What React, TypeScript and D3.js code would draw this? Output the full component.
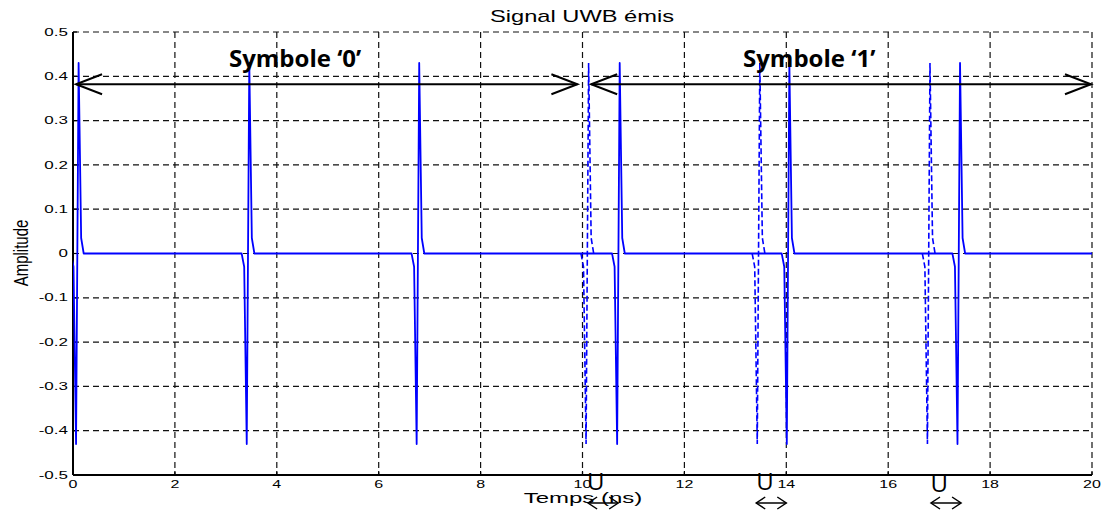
import React from "react";
import * as d3 from "d3";

// Axis ticks
const xTicks = [0, 2, 4, 6, 8, 10, 12, 14, 16, 18, 20];
const yTicks = [-0.5, -0.4, -0.3, -0.2, -0.1, 0, 0.1, 0.2, 0.3, 0.4, 0.5];

// One sampled UWB monocycle: time offsets (ns) and amplitudes
const pulseOffsets = [0, 0.05, 0.1, 0.15, 0.2, 0.25];
const pulseShape = [0, -0.03, -0.43, 0.43, 0.035, 0];

// Pulse start times (ns)
const symbol0Starts = [-0.04, 3.31, 6.645];
const symbol1Starts = [10.58, 13.91, 17.26];
// Unshifted positions of the symbol '1' pulses (drawn dashed)
const symbol1RefStarts = [9.97, 13.33, 16.67];

// Symbol span arrows and labels
const symbolLabels = ["Symbole \u20180\u2019", "Symbole \u20181\u2019"];
const symbolFrom = [0.06, 10.17];
const symbolTo = [9.9, 19.98];
const symbolLabelX = [3.06, 13.15];
const symbolArrowLevel = 0.382;

// PPM shift markers
const shiftMarkX = [10.26, 13.58, 17.0];
const shiftFrom = [10.11, 13.41, 16.84];
const shiftTo = [10.7, 14.0, 17.43];

const W = 1115;
const H = 517;
const left = 73;
const right = 1092;
const top = 32;
const bottom = 475;

const FONT = "'Liberation Sans', Arial, Helvetica, sans-serif";

function pulsePoints(start: number): [number, number][] {
  return pulseOffsets.map((o, i) => [start + o, pulseShape[i]] as [number, number]);
}

export default function App() {
  const x = d3.scaleLinear().domain([0, 20]).range([left, right]);
  const y = d3.scaleLinear().domain([-0.5, 0.5]).range([bottom, top]);
  const line = d3
    .line<[number, number]>()
    .x((d) => x(d[0]))
    .y((d) => y(d[1]));

  const solid: [number, number][] = [];
  [...symbol0Starts, ...symbol1Starts]
    .sort((a, b) => a - b)
    .forEach((s) => solid.push(...pulsePoints(s)));
  solid.push([20, 0]);

  const gridStyle = { stroke: "#111", strokeWidth: 1.2, strokeDasharray: "6,4" };
  const ay = y(symbolArrowLevel);

  const openHead = (tx: number, ty: number, dir: number, len: number, half: number) =>
    `M${tx + dir * len},${ty - half}L${tx},${ty}L${tx + dir * len},${ty + half}`;

  return (
    <svg
      width={W}
      height={H}
      style={{ position: "absolute", left: 0, top: 0, background: "#fff" }}
    >
      <defs>
        <clipPath id="plotArea">
          <rect x={left} y={top - 2} width={right - left} height={bottom - top + 4} />
        </clipPath>
      </defs>

      {/* grid */}
      {xTicks.slice(1).map((t) => (
        <line key={"gx" + t} x1={x(t)} x2={x(t)} y1={top} y2={bottom} {...gridStyle} />
      ))}
      {yTicks.slice(1).map((v) => (
        <line key={"gy" + v} x1={left} x2={right} y1={y(v)} y2={y(v)} {...gridStyle} />
      ))}

      {/* axes */}
      <line x1={left} x2={left} y1={top} y2={bottom} stroke="#000" strokeWidth={2} />
      <line x1={left} x2={right} y1={bottom} y2={bottom} stroke="#000" strokeWidth={2} />
      {xTicks.map((t) => (
        <line key={"tx" + t} x1={x(t)} x2={x(t)} y1={bottom} y2={bottom - 4} stroke="#000" strokeWidth={1.2} />
      ))}
      {yTicks.map((v) => (
        <line key={"ty" + v} x1={left} x2={left + 4} y1={y(v)} y2={y(v)} stroke="#000" strokeWidth={1.2} />
      ))}

      {/* tick labels */}
      {xTicks.map((t) => (
        <g key={"lx" + t} transform={`translate(${x(t)},488) scale(1.6,1)`}>
          <text textAnchor="middle" fontSize={10} fontFamily={FONT} fill="#000">
            {t}
          </text>
        </g>
      ))}
      {yTicks.map((v) => (
        <g key={"ly" + v} transform={`translate(68,${y(v) + 3.6}) scale(1.7,1)`}>
          <text textAnchor="end" fontSize={10} fontFamily={FONT} fill="#000">
            {String(+v.toFixed(1))}
          </text>
        </g>
      ))}

      {/* signal */}
      <g clipPath="url(#plotArea)">
        {symbol1RefStarts.map((s) => (
          <path
            key={"ref" + s}
            d={line(pulsePoints(s)) || ""}
            fill="none"
            stroke="#0000ff"
            strokeWidth={1.6}
            strokeDasharray="6,3"
          />
        ))}
        <path d={line(solid) || ""} fill="none" stroke="#0000ff" strokeWidth={1.8} strokeLinejoin="round" />
      </g>

      {/* symbol span arrows */}
      {symbolLabels.map((lab, i) => {
        const x1 = x(symbolFrom[i]);
        const x2 = x(symbolTo[i]);
        return (
          <g key={lab}>
            <line x1={x1} x2={x2} y1={ay} y2={ay} stroke="#000" strokeWidth={2} />
            <path d={openHead(x1, ay, 1, 26, 10)} fill="none" stroke="#000" strokeWidth={2} />
            <path d={openHead(x2, ay, -1, 26, 10)} fill="none" stroke="#000" strokeWidth={2} />
            <text
              x={x(symbolLabelX[i])}
              y={67}
              fontSize={24}
              fontWeight="bold"
              fontFamily="'Open Sans', sans-serif"
              fill="#000"
            >
              {lab}
            </text>
          </g>
        );
      })}

      {/* pulse position shift markers */}
      {shiftMarkX.map((m, i) => {
        const x1 = x(shiftFrom[i]);
        const x2 = x(shiftTo[i]);
        const yy = 503;
        return (
          <g key={"sh" + i}>
            <text
              x={x(m)}
              y={i === 2 ? 492 : 490}
              textAnchor="middle"
              fontSize={24}
              fontFamily="'Open Sans', sans-serif"
              fill="#000"
            >
              U
            </text>
            <line x1={x1} x2={x2} y1={yy} y2={yy} stroke="#000" strokeWidth={1.5} />
            <path d={openHead(x1, yy, 1, 9, 6)} fill="none" stroke="#000" strokeWidth={1.5} />
            <path d={openHead(x2, yy, -1, 9, 6)} fill="none" stroke="#000" strokeWidth={1.5} />
          </g>
        );
      })}

      {/* titles */}
      <g transform="translate(582,22) scale(1.48,1)">
        <text textAnchor="middle" fontSize={16} fontFamily={FONT} fill="#000">
          Signal UWB émis
        </text>
      </g>
      <g transform="translate(583,503) scale(1.6,1)">
        <text textAnchor="middle" fontSize={15} fontFamily={FONT} fill="#000">
          Temps (ns)
        </text>
      </g>
      <g transform="translate(27.5,253) rotate(-90) scale(1,1.3)">
        <text textAnchor="middle" fontSize={15} fontFamily={FONT} fill="#000">
          Amplitude
        </text>
      </g>
    </svg>
  );
}
